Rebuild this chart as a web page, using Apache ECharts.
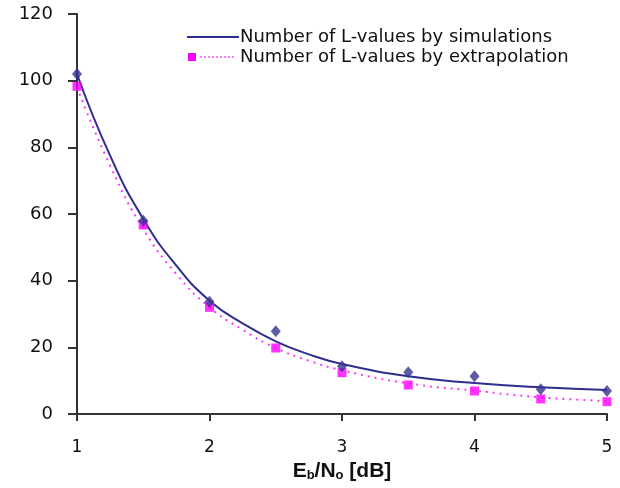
<!DOCTYPE html>
<html>
<head>
<meta charset="utf-8">
<script src="https://cdn.jsdelivr.net/npm/echarts@6/dist/echarts.min.js"></script>
<style>html,body{margin:0;padding:0;background:#fff}#c{width:620px;height:488px}</style>
</head>
<body>
<div id="c"></div>
<script>
// Measured points
var xPts = [1, 1.5, 2, 2.5, 3, 3.5, 4, 4.5, 5];
var simPts = [102, 58, 33.7, 24.8, 14.3, 12.5, 11.3, 7.4, 6.9];
var extPts = [98.3, 56.7, 32, 19.8, 12.4, 8.7, 6.9, 4.5, 3.7];
// Trend lines
var trendX = [1, 1.25, 1.5, 1.75, 2, 2.25, 2.5, 2.75, 3, 3.5, 4, 4.5, 5];
var simTrend = [102, 77.5, 58.5, 44.5, 34, 27.2, 21.8, 17.9, 15, 11.3, 9.3, 8, 7.2];
var extTrend = [98, 74.5, 55.5, 42, 32, 25.3, 19.8, 16, 13.1, 9.2, 7, 5, 3.9];
var yTicks = [0, 20, 40, 60, 80, 100, 120];
var xTicks = [1, 2, 3, 4, 5];
var nameSim = 'Number of L-values by simulations';
var nameExt = 'Number of L-values by extrapolation';

function pairs(xs, ys) { return xs.map(function (x, i) { return [x, ys[i]]; }); }

var chart = echarts.init(document.getElementById('c'));
var fontFam = 'DejaVu Sans, Arial, sans-serif';
chart.setOption({
  animation: false,
  backgroundColor: '#fff',
  grid: { left: 77, right: 13, top: 14, bottom: 74 },
  legend: {
    left: 187, top: 27, orient: 'vertical', itemGap: 0, padding: 0,
    itemWidth: 52, itemHeight: 12,
    textStyle: { fontFamily: fontFam, fontSize: 18, lineHeight: 20, color: '#111', padding: [0, 0, 0, -4] },
    data: [
      { name: nameSim, icon: 'path://M0,5h52v2h-52z' },
      { name: nameExt, icon: 'path://M2,2h8v8h-8z M14,5.5h2v1h-2z M18,5.5h2v1h-2z M22,5.5h2v1h-2z M26,5.5h2v1h-2z M30,5.5h2v1h-2z M34,5.5h2v1h-2z M38,5.5h2v1h-2z M42,5.5h2v1h-2z M46,5.5h2v1h-2z M50,0h2v0.01h-2z M50,11.99h2v0.01h-2z' }
    ]
  },
  xAxis: {
    type: 'value', min: xTicks[0], max: xTicks[xTicks.length - 1], interval: 1,
    axisLine: { lineStyle: { color: '#333', width: 2 } },
    axisTick: { length: 7, lineStyle: { color: '#333', width: 2 } },
    splitLine: { show: false },
    axisLabel: { margin: 25, fontFamily: fontFam, fontSize: 17, color: '#111' },
    name: '{b|E}{s|b}{b|/N}{s|o}{b| [dB]}',
    nameLocation: 'middle', nameGap: 44,
    nameTextStyle: {
      rich: {
        b: { fontFamily: 'Liberation Sans, Arial, sans-serif', fontWeight: 'bold', fontSize: 21, color: '#111' },
        s: { fontFamily: 'Liberation Sans, Arial, sans-serif', fontWeight: 'bold', fontSize: 13, color: '#111', verticalAlign: 'bottom', padding: [8, 0, 0, 0] }
      }
    }
  },
  yAxis: {
    type: 'value', min: yTicks[0], max: yTicks[yTicks.length - 1], interval: 20,
    axisLine: { show: true, lineStyle: { color: '#333', width: 2 } },
    axisTick: { show: true, length: 9, lineStyle: { color: '#333', width: 2 } },
    splitLine: { show: false },
    axisLabel: { margin: 24, fontFamily: fontFam, fontSize: 18, color: '#111' }
  },
  series: [
    {
      name: nameSim, type: 'line', smooth: 0.5, symbol: 'none',
      data: pairs(trendX, simTrend),
      lineStyle: { color: '#2E2E8E', width: 2 }, itemStyle: { color: '#2E2E8E' }, z: 3
    },
    {
      name: nameExt, type: 'line', smooth: 0.5, symbol: 'none',
      data: pairs(trendX, extTrend),
      lineStyle: { color: '#FF33FF', width: 2, type: [2, 5] }, itemStyle: { color: '#FF00FF' }, z: 2
    },
    {
      name: 'simPts', type: 'scatter', symbol: 'diamond', symbolSize: [10, 12],
      data: pairs(xPts, simPts), itemStyle: { color: '#33338F' }, z: 5
    },
    {
      name: 'extPts', type: 'scatter', symbol: 'rect', symbolSize: 9,
      data: pairs(xPts, extPts), itemStyle: { color: '#FF00FF' }, z: 4
    }
  ]
});
</script>
</body>
</html>
